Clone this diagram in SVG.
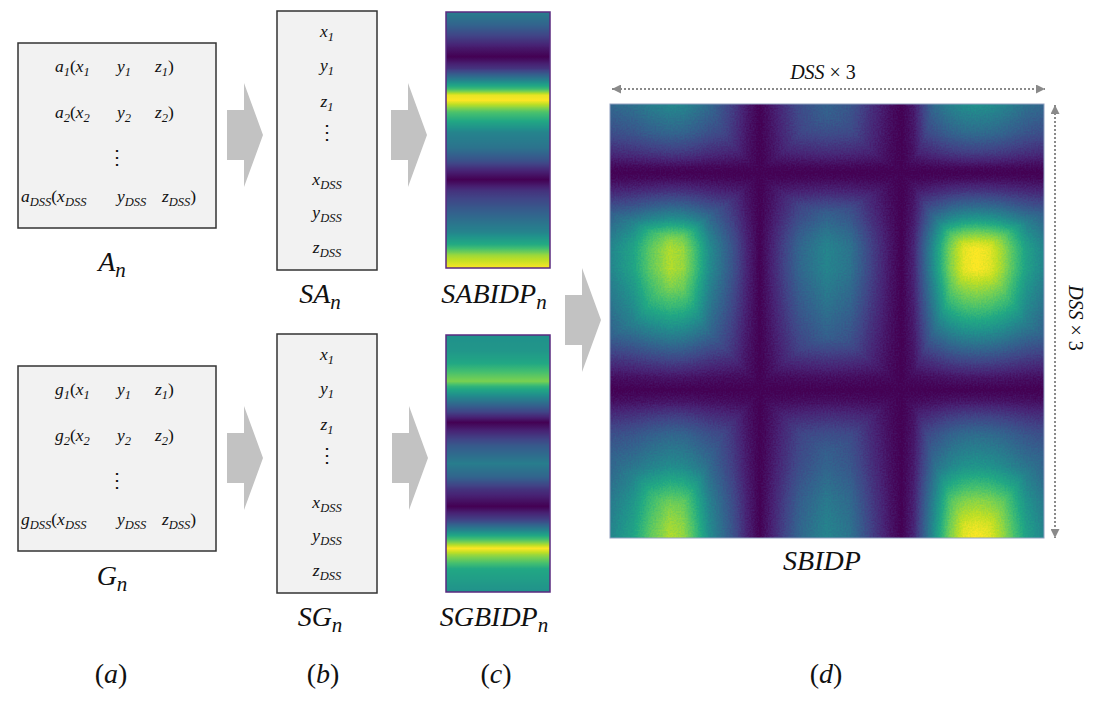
<svg xmlns="http://www.w3.org/2000/svg" width="1097" height="701" viewBox="0 0 1097 701">
<style>
.m{font-family:"Liberation Serif",serif;font-style:italic;font-size:17.5px;fill:#111}
.s{font-size:12.5px}
.u{font-style:normal}
.lbl{font-size:28px}
.lbl .s{font-size:21px}
.dim{font-size:20px}
.dots{font-family:"DejaVu Serif",serif;font-size:20px;fill:#111}
.box{fill:#f2f2f2;stroke:#333;stroke-width:1.5}
.barb{fill:none;stroke:#5a2a80;stroke-width:1.5}
.blk{fill:#c2c2c2}
.dl{stroke:#8a8a8a;stroke-width:2;stroke-dasharray:2 2;fill:none}
</style>
<defs>
<linearGradient id="gp" x1="0" y1="0" x2="0" y2="1">
<stop offset="0" stop-color="rgb(107,107,107)"/>
<stop offset="0.05" stop-color="rgb(82,82,82)"/>
<stop offset="0.10" stop-color="rgb(46,46,46)"/>
<stop offset="0.14" stop-color="rgb(18,18,18)"/>
<stop offset="0.175" stop-color="rgb(0,0,0)"/>
<stop offset="0.22" stop-color="rgb(38,38,38)"/>
<stop offset="0.26" stop-color="rgb(102,102,102)"/>
<stop offset="0.30" stop-color="rgb(173,173,173)"/>
<stop offset="0.325" stop-color="rgb(247,247,247)"/>
<stop offset="0.345" stop-color="rgb(255,255,255)"/>
<stop offset="0.39" stop-color="rgb(184,184,184)"/>
<stop offset="0.47" stop-color="rgb(115,115,115)"/>
<stop offset="0.53" stop-color="rgb(97,97,97)"/>
<stop offset="0.58" stop-color="rgb(64,64,64)"/>
<stop offset="0.62" stop-color="rgb(26,26,26)"/>
<stop offset="0.655" stop-color="rgb(0,0,0)"/>
<stop offset="0.70" stop-color="rgb(38,38,38)"/>
<stop offset="0.78" stop-color="rgb(77,77,77)"/>
<stop offset="0.86" stop-color="rgb(115,115,115)"/>
<stop offset="0.91" stop-color="rgb(158,158,158)"/>
<stop offset="0.95" stop-color="rgb(217,217,217)"/>
<stop offset="1" stop-color="rgb(255,255,255)"/>
</linearGradient>
<linearGradient id="gq" x1="0" y1="0" x2="0" y2="1">
<stop offset="0" stop-color="rgb(128,128,128)"/>
<stop offset="0.06" stop-color="rgb(133,133,133)"/>
<stop offset="0.11" stop-color="rgb(153,153,153)"/>
<stop offset="0.16" stop-color="rgb(191,191,191)"/>
<stop offset="0.18" stop-color="rgb(204,204,204)"/>
<stop offset="0.20" stop-color="rgb(166,166,166)"/>
<stop offset="0.25" stop-color="rgb(107,107,107)"/>
<stop offset="0.30" stop-color="rgb(51,51,51)"/>
<stop offset="0.34" stop-color="rgb(0,0,0)"/>
<stop offset="0.38" stop-color="rgb(31,31,31)"/>
<stop offset="0.43" stop-color="rgb(71,71,71)"/>
<stop offset="0.50" stop-color="rgb(107,107,107)"/>
<stop offset="0.55" stop-color="rgb(84,84,84)"/>
<stop offset="0.60" stop-color="rgb(38,38,38)"/>
<stop offset="0.667" stop-color="rgb(0,0,0)"/>
<stop offset="0.72" stop-color="rgb(51,51,51)"/>
<stop offset="0.76" stop-color="rgb(115,115,115)"/>
<stop offset="0.795" stop-color="rgb(179,179,179)"/>
<stop offset="0.83" stop-color="rgb(255,255,255)"/>
<stop offset="0.855" stop-color="rgb(217,217,217)"/>
<stop offset="0.91" stop-color="rgb(153,153,153)"/>
<stop offset="1" stop-color="rgb(128,128,128)"/>
</linearGradient>
<linearGradient id="hr" x1="0" y1="0" x2="0" y2="1">
<stop offset="0" stop-color="rgb(128,128,128)"/>
<stop offset="0.067" stop-color="rgb(89,89,89)"/>
<stop offset="0.113" stop-color="rgb(46,46,46)"/>
<stop offset="0.145" stop-color="rgb(8,8,8)"/>
<stop offset="0.158" stop-color="rgb(0,0,0)"/>
<stop offset="0.172" stop-color="rgb(8,8,8)"/>
<stop offset="0.20" stop-color="rgb(38,38,38)"/>
<stop offset="0.236" stop-color="rgb(89,89,89)"/>
<stop offset="0.267" stop-color="rgb(140,140,140)"/>
<stop offset="0.298" stop-color="rgb(204,204,204)"/>
<stop offset="0.32" stop-color="rgb(240,240,240)"/>
<stop offset="0.336" stop-color="rgb(255,255,255)"/>
<stop offset="0.38" stop-color="rgb(255,255,255)"/>
<stop offset="0.41" stop-color="rgb(230,230,230)"/>
<stop offset="0.467" stop-color="rgb(184,184,184)"/>
<stop offset="0.53" stop-color="rgb(122,122,122)"/>
<stop offset="0.59" stop-color="rgb(56,56,56)"/>
<stop offset="0.63" stop-color="rgb(15,15,15)"/>
<stop offset="0.659" stop-color="rgb(0,0,0)"/>
<stop offset="0.685" stop-color="rgb(15,15,15)"/>
<stop offset="0.72" stop-color="rgb(51,51,51)"/>
<stop offset="0.76" stop-color="rgb(89,89,89)"/>
<stop offset="0.836" stop-color="rgb(133,133,133)"/>
<stop offset="0.913" stop-color="rgb(210,210,210)"/>
<stop offset="0.97" stop-color="rgb(245,245,245)"/>
<stop offset="1" stop-color="rgb(255,255,255)"/>
</linearGradient>
<linearGradient id="hc" x1="0" y1="0" x2="1" y2="0">
<stop offset="0" stop-color="rgb(115,115,115)"/>
<stop offset="0.054" stop-color="rgb(148,148,148)"/>
<stop offset="0.092" stop-color="rgb(191,191,191)"/>
<stop offset="0.138" stop-color="rgb(225,225,225)"/>
<stop offset="0.169" stop-color="rgb(215,215,215)"/>
<stop offset="0.192" stop-color="rgb(184,184,184)"/>
<stop offset="0.23" stop-color="rgb(122,122,122)"/>
<stop offset="0.284" stop-color="rgb(64,64,64)"/>
<stop offset="0.315" stop-color="rgb(26,26,26)"/>
<stop offset="0.345" stop-color="rgb(0,0,0)"/>
<stop offset="0.375" stop-color="rgb(26,26,26)"/>
<stop offset="0.437" stop-color="rgb(84,84,84)"/>
<stop offset="0.499" stop-color="rgb(115,115,115)"/>
<stop offset="0.553" stop-color="rgb(97,97,97)"/>
<stop offset="0.606" stop-color="rgb(46,46,46)"/>
<stop offset="0.645" stop-color="rgb(15,15,15)"/>
<stop offset="0.672" stop-color="rgb(0,0,0)"/>
<stop offset="0.70" stop-color="rgb(26,26,26)"/>
<stop offset="0.744" stop-color="rgb(122,122,122)"/>
<stop offset="0.783" stop-color="rgb(204,204,204)"/>
<stop offset="0.815" stop-color="rgb(245,245,245)"/>
<stop offset="0.844" stop-color="rgb(255,255,255)"/>
<stop offset="0.875" stop-color="rgb(245,245,245)"/>
<stop offset="0.905" stop-color="rgb(217,217,217)"/>
<stop offset="0.959" stop-color="rgb(145,145,145)"/>
<stop offset="1" stop-color="rgb(115,115,115)"/>
</linearGradient>
<filter id="vir" x="0" y="0" width="1" height="1" color-interpolation-filters="sRGB">
<feComponentTransfer>
<feFuncR type="table" tableValues="0.267 0.282 0.255 0.208 0.165 0.129 0.133 0.267 0.478 0.741 0.992"/>
<feFuncG type="table" tableValues="0.004 0.141 0.267 0.373 0.471 0.569 0.659 0.749 0.820 0.875 0.906"/>
<feFuncB type="table" tableValues="0.329 0.459 0.529 0.553 0.557 0.549 0.518 0.439 0.318 0.149 0.145"/>
</feComponentTransfer>
</filter>
<filter id="onlyR" x="0" y="0" width="1" height="1" color-interpolation-filters="sRGB">
<feColorMatrix type="matrix" values="1 0 0 0 0  0 0 0 0 0  0 0 0 0 0  0 0 0 1 0"/>
</filter>
<filter id="onlyG" x="0" y="0" width="1" height="1" color-interpolation-filters="sRGB">
<feColorMatrix type="matrix" values="0 0 0 0 0  0 1 0 0 0  0 0 0 0 0  0 0 0 1 0"/>
</filter>
<filter id="virh" x="0" y="0" width="1" height="1" color-interpolation-filters="sRGB">
<feColorMatrix in="SourceGraphic" type="matrix" values="0.6 0.4 0 0 0  0.6 0.4 0 0 0  0.6 0.4 0 0 0  0 0 0 0 1" result="v"/>
<feTurbulence type="fractalNoise" baseFrequency="0.6" numOctaves="1" seed="4" result="n"/>
<feColorMatrix in="n" type="matrix" values="1 0 0 0 0  1 0 0 0 0  1 0 0 0 0  0 0 0 0 1" result="g"/>
<feComposite in="v" in2="g" operator="arithmetic" k1="0" k2="1" k3="0.1" k4="-0.05" result="s"/>
<feComponentTransfer in="s">
<feFuncR type="table" tableValues="0.267 0.282 0.255 0.208 0.165 0.129 0.133 0.267 0.478 0.741 0.992"/>
<feFuncG type="table" tableValues="0.004 0.141 0.267 0.373 0.471 0.569 0.659 0.749 0.820 0.875 0.906"/>
<feFuncB type="table" tableValues="0.329 0.459 0.529 0.553 0.557 0.549 0.518 0.439 0.318 0.149 0.145"/>
<feFuncA type="linear" slope="0" intercept="1"/>
</feComponentTransfer>
</filter>
<marker id="ah" viewBox="0 0 10 10" refX="10" refY="5" markerWidth="9" markerHeight="9" markerUnits="userSpaceOnUse" orient="auto-start-reverse">
<path d="M0,0 L10,5 L0,10 z" fill="#8a8a8a"/>
</marker>
<path id="blockArrow" d="M0,-25 H17 V-52 L36,0 L17,52 V25 H0 Z"/>
</defs>

<rect width="1097" height="701" fill="#fff"/>

<g id="connectors">
<use href="#blockArrow" class="blk" x="227" y="135"/>
<use href="#blockArrow" class="blk" x="391" y="135"/>
<use href="#blockArrow" class="blk" x="565" y="320"/>
<use href="#blockArrow" class="blk" x="227" y="458"/>
<use href="#blockArrow" class="blk" x="392" y="458"/>
</g>

<g id="node-An">
<rect class="box" x="18" y="43" width="198" height="185"/>
<text class="m" y="72"><tspan x="55">a</tspan><tspan class="s" dy="4">1</tspan><tspan class="u" dy="-4">(</tspan><tspan>x</tspan><tspan class="s" dy="4">1</tspan><tspan x="117" dy="-4">y</tspan><tspan class="s" dy="4">1</tspan><tspan x="155" dy="-4">z</tspan><tspan class="s" dy="4">1</tspan><tspan class="u" dy="-4">)</tspan></text>
<text class="m" y="118"><tspan x="55">a</tspan><tspan class="s" dy="4">2</tspan><tspan class="u" dy="-4">(</tspan><tspan>x</tspan><tspan class="s" dy="4">2</tspan><tspan x="117" dy="-4">y</tspan><tspan class="s" dy="4">2</tspan><tspan x="155" dy="-4">z</tspan><tspan class="s" dy="4">2</tspan><tspan class="u" dy="-4">)</tspan></text>
<text class="dots" x="117" y="164" text-anchor="middle">⋮</text>
<text class="m" y="202"><tspan x="21">a</tspan><tspan class="s" dy="4">DSS</tspan><tspan class="u" dy="-4">(</tspan><tspan>x</tspan><tspan class="s" dy="4">DSS</tspan><tspan x="117" dy="-4">y</tspan><tspan class="s" dy="4">DSS</tspan><tspan x="162" dy="-4">z</tspan><tspan class="s" dy="4">DSS</tspan><tspan class="u" dy="-4">)</tspan></text>
<text class="m lbl" x="112" y="271" text-anchor="middle">A<tspan class="s" dy="6">n</tspan></text>
</g>

<g id="node-Gn">
<rect class="box" x="18" y="366" width="198" height="185"/>
<text class="m" y="395"><tspan x="55">g</tspan><tspan class="s" dy="4">1</tspan><tspan class="u" dy="-4">(</tspan><tspan>x</tspan><tspan class="s" dy="4">1</tspan><tspan x="117" dy="-4">y</tspan><tspan class="s" dy="4">1</tspan><tspan x="155" dy="-4">z</tspan><tspan class="s" dy="4">1</tspan><tspan class="u" dy="-4">)</tspan></text>
<text class="m" y="441"><tspan x="55">g</tspan><tspan class="s" dy="4">2</tspan><tspan class="u" dy="-4">(</tspan><tspan>x</tspan><tspan class="s" dy="4">2</tspan><tspan x="117" dy="-4">y</tspan><tspan class="s" dy="4">2</tspan><tspan x="155" dy="-4">z</tspan><tspan class="s" dy="4">2</tspan><tspan class="u" dy="-4">)</tspan></text>
<text class="dots" x="117" y="487" text-anchor="middle">⋮</text>
<text class="m" y="525"><tspan x="21">g</tspan><tspan class="s" dy="4">DSS</tspan><tspan class="u" dy="-4">(</tspan><tspan>x</tspan><tspan class="s" dy="4">DSS</tspan><tspan x="117" dy="-4">y</tspan><tspan class="s" dy="4">DSS</tspan><tspan x="162" dy="-4">z</tspan><tspan class="s" dy="4">DSS</tspan><tspan class="u" dy="-4">)</tspan></text>
<text class="m lbl" x="112" y="585" text-anchor="middle">G<tspan class="s" dy="6">n</tspan></text>
</g>

<g id="node-SAn">
<rect class="box" x="277" y="11" width="100" height="259"/>
<text class="m" x="327" y="37" text-anchor="middle">x<tspan class="s" dy="4">1</tspan></text>
<text class="m" x="327" y="71" text-anchor="middle">y<tspan class="s" dy="4">1</tspan></text>
<text class="m" x="327" y="107" text-anchor="middle">z<tspan class="s" dy="4">1</tspan></text>
<text class="dots" x="327" y="139" text-anchor="middle">⋮</text>
<text class="m" x="327" y="185" text-anchor="middle">x<tspan class="s" dy="4">DSS</tspan></text>
<text class="m" x="327" y="218" text-anchor="middle">y<tspan class="s" dy="4">DSS</tspan></text>
<text class="m" x="327" y="253" text-anchor="middle">z<tspan class="s" dy="4">DSS</tspan></text>
<text class="m lbl" x="320" y="303" text-anchor="middle">SA<tspan class="s" dy="6">n</tspan></text>
</g>

<g id="node-SGn">
<rect class="box" x="277" y="334" width="100" height="259"/>
<text class="m" x="327" y="360" text-anchor="middle">x<tspan class="s" dy="4">1</tspan></text>
<text class="m" x="327" y="394" text-anchor="middle">y<tspan class="s" dy="4">1</tspan></text>
<text class="m" x="327" y="430" text-anchor="middle">z<tspan class="s" dy="4">1</tspan></text>
<text class="dots" x="327" y="462" text-anchor="middle">⋮</text>
<text class="m" x="327" y="508" text-anchor="middle">x<tspan class="s" dy="4">DSS</tspan></text>
<text class="m" x="327" y="541" text-anchor="middle">y<tspan class="s" dy="4">DSS</tspan></text>
<text class="m" x="327" y="576" text-anchor="middle">z<tspan class="s" dy="4">DSS</tspan></text>
<text class="m lbl" x="320" y="626" text-anchor="middle">SG<tspan class="s" dy="6">n</tspan></text>
</g>

<g id="node-SABIDPn">
<rect x="446" y="12" width="104" height="256" fill="url(#gp)" filter="url(#vir)"/>
<rect class="barb" x="446" y="12" width="104" height="256"/>
<text class="m lbl" x="494" y="303" text-anchor="middle">SABIDP<tspan class="s" dy="6">n</tspan></text>
</g>

<g id="node-SGBIDPn">
<rect x="446" y="335" width="104" height="257" fill="url(#gq)" filter="url(#vir)"/>
<rect class="barb" x="446" y="335" width="104" height="257"/>
<text class="m lbl" x="494" y="626" text-anchor="middle">SGBIDP<tspan class="s" dy="6">n</tspan></text>
</g>

<g id="node-SBIDP">
<g filter="url(#virh)">
<g style="isolation:isolate" filter="url(#onlyR)">
<rect x="610" y="104" width="434" height="434" fill="url(#hc)"/>
<rect x="610" y="104" width="434" height="434" fill="url(#hr)" style="mix-blend-mode:multiply"/>
</g>
<g style="isolation:isolate;mix-blend-mode:lighten" filter="url(#onlyG)">
<rect x="610" y="104" width="434" height="434" fill="url(#hc)"/>
<rect x="610" y="104" width="434" height="434" fill="url(#hr)" style="mix-blend-mode:darken"/>
</g>
</g>
<rect x="610" y="104" width="434" height="434" fill="none" stroke="#8fa0c0" stroke-width="1"/>
<text class="m lbl" x="822" y="570" text-anchor="middle">SBIDP</text>
</g>

<g id="dimensions">
<line class="dl" x1="612" y1="89" x2="1045" y2="89" marker-start="url(#ah)" marker-end="url(#ah)"/>
<text class="m dim" x="823" y="79" text-anchor="middle">DSS <tspan class="u">× 3</tspan></text>
<line class="dl" x1="1055" y1="105" x2="1055" y2="538" marker-start="url(#ah)" marker-end="url(#ah)"/>
<text class="m dim" transform="translate(1075,318) rotate(90)" x="0" y="6" text-anchor="middle">DSS <tspan class="u">× 3</tspan></text>
</g>

<g id="panel-labels">
<text class="m lbl" x="111" y="683" text-anchor="middle"><tspan class="u">(</tspan>a<tspan class="u">)</tspan></text>
<text class="m lbl" x="323" y="683" text-anchor="middle"><tspan class="u">(</tspan>b<tspan class="u">)</tspan></text>
<text class="m lbl" x="496" y="683" text-anchor="middle"><tspan class="u">(</tspan>c<tspan class="u">)</tspan></text>
<text class="m lbl" x="826" y="683" text-anchor="middle"><tspan class="u">(</tspan>d<tspan class="u">)</tspan></text>
</g>
</svg>
